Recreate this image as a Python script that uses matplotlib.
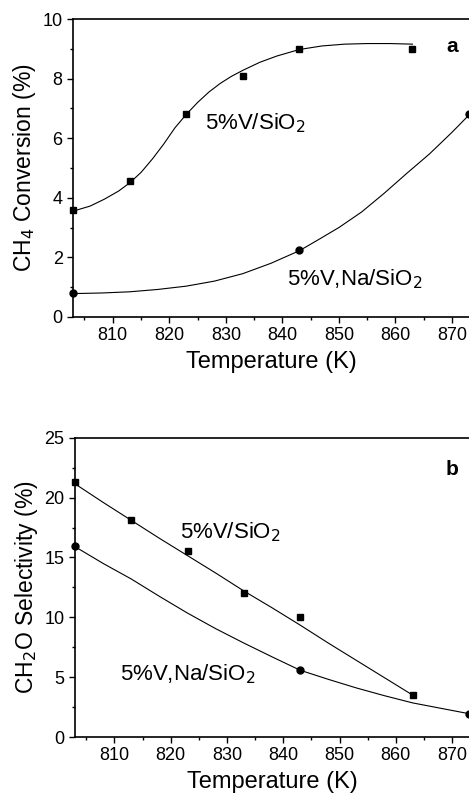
#!/usr/bin/env python3

import matplotlib as mpl
mpl.use('Agg')
import matplotlib.pyplot as plt
from matplotlib.ticker import MultipleLocator

plt.rcParams['font.family'] = ['Liberation Sans', 'DejaVu Sans']

# panel a: CH4 conversion (%)
temp_v = [803, 813, 823, 833, 843, 863]
conv_v = [3.6, 4.55, 6.8, 8.1, 9.0, 9.0]
temp_na = [803, 843, 873]
conv_na = [0.8, 2.25, 6.8]

# fitted curves
fit_a_v_t = [803, 806, 808.5, 811, 813, 815, 817, 819, 821, 823, 825, 827,
             829, 831, 833, 836, 839, 843, 847, 851, 855, 859, 863]
fit_a_v_y = [3.55, 3.72, 3.95, 4.22, 4.5, 4.85, 5.3, 5.8, 6.35, 6.8, 7.2, 7.55,
             7.84, 8.08, 8.28, 8.55, 8.76, 8.98, 9.1, 9.16, 9.18, 9.18, 9.16]
fit_a_na_t = [803, 808, 813, 818, 823, 828, 833, 838, 843, 846, 850, 854,
              858, 862, 866, 870, 873]
fit_a_na_y = [0.78, 0.8, 0.84, 0.92, 1.03, 1.2, 1.45, 1.8, 2.22, 2.55, 3.0, 3.52,
              4.15, 4.82, 5.47, 6.2, 6.78]

# panel b: CH2O selectivity (%)
sel_v = [21.3, 18.1, 15.5, 12.0, 10.0, 3.5]
sel_na = [16.0, 5.6, 1.95]

fit_b_v_t = [803, 808, 813, 818, 823, 828, 833, 838, 843, 848, 853, 858, 863]
fit_b_v_y = [21.15, 19.6, 18.1, 16.6, 15.15, 13.7, 12.2, 10.8, 9.35, 7.85, 6.4, 4.95, 3.5]
fit_b_na_t = [803, 808, 813, 818, 823, 828, 833, 838, 843, 848, 853, 858, 863, 868, 873]
fit_b_na_y = [15.9, 14.5, 13.2, 11.75, 10.35, 9.05, 7.85, 6.7, 5.58, 4.82, 4.1, 3.45,
              2.85, 2.4, 1.95]


def style(ax, ymax, ymajor, yminor):
    ax.set_xlim(803, 873)
    ax.set_ylim(0, ymax)
    ax.xaxis.set_major_locator(MultipleLocator(10))
    ax.xaxis.set_minor_locator(MultipleLocator(5))
    ax.yaxis.set_major_locator(MultipleLocator(ymajor))
    ax.yaxis.set_minor_locator(MultipleLocator(yminor))
    ax.tick_params(which='major', direction='out', length=4, width=1, labelsize=13)
    ax.tick_params(which='minor', direction='out', length=2, width=1)
    ax.spines['right'].set_visible(False)
    for s in ['left', 'bottom', 'top']:
        ax.spines[s].set_linewidth(1.2)
    ax.set_xlabel('Temperature (K)', fontsize=17, labelpad=5)


fig = plt.figure(figsize=(4.69, 7.98), dpi=100)

ax = fig.add_axes([0.156, 0.603, 0.844, 0.373])
ax.plot(fit_a_v_t, fit_a_v_y, color='k', lw=0.8)
ax.plot(fit_a_na_t, fit_a_na_y, color='k', lw=0.8)
ax.plot(temp_v, conv_v, 's', color='k', ms=5, clip_on=False)
ax.plot(temp_na, conv_na, 'o', color='k', ms=5, clip_on=False)
style(ax, 10, 2, 1)
ax.set_ylabel('CH$_4$ Conversion (%)', fontsize=16.5, labelpad=3)
ax.text(826.4, 6.3, '5%V/SiO$_2$', fontsize=16, va='baseline')
ax.text(840.8, 1.07, '5%V,Na/SiO$_2$', fontsize=16, va='baseline')
ax.text(869.0, 8.9, 'a', fontsize=15, fontweight='bold', va='baseline')

ax = fig.add_axes([0.16, 0.0764, 0.84, 0.375])
ax.plot(fit_b_v_t, fit_b_v_y, color='k', lw=0.8)
ax.plot(fit_b_na_t, fit_b_na_y, color='k', lw=0.8)
ax.plot(temp_v, sel_v, 's', color='k', ms=5, clip_on=False)
ax.plot(temp_na, sel_na, 'o', color='k', ms=5, clip_on=False)
style(ax, 25, 5, 2.5)
ax.set_ylabel('CH$_2$O Selectivity (%)', fontsize=16.5, labelpad=3)
ax.text(821.6, 16.6, '5%V/SiO$_2$', fontsize=16, va='baseline')
ax.text(811.0, 4.75, '5%V,Na/SiO$_2$', fontsize=16, va='baseline')
ax.text(868.8, 21.9, 'b', fontsize=15, fontweight='bold', va='baseline')

fig.savefig('out.png', dpi=100)
